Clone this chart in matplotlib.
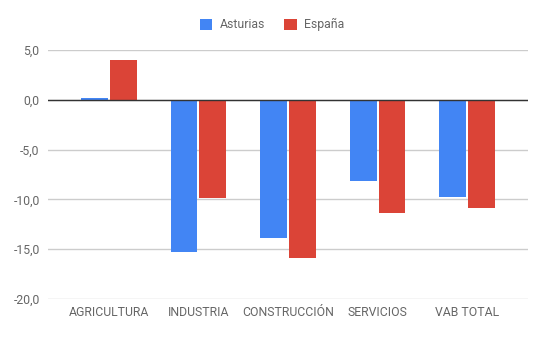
import numpy as np
import matplotlib.pyplot as plt

plt.rcParams['font.family'] = ['Roboto', 'DejaVu Sans']

# datos
categorias = ['AGRICULTURA', 'INDUSTRIA', 'CONSTRUCCIÓN', 'SERVICIOS', 'VAB TOTAL']
asturias = [0.15, -15.3, -13.9, -8.2, -9.8]
espana = [4.0, -9.9, -15.9, -11.4, -10.9]
yticks = [-20, -15, -10, -5, 0, 5]

fig = plt.figure(figsize=(5.44, 3.37), dpi=100)
ax = fig.add_axes([0.0882, 0.1128, 0.8824, 0.7388])

x = np.arange(len(categorias))
w = 0.30
gap = 0.022
ax.bar(x - w / 2 - gap / 2, asturias, w, color='#4285f4', label='Asturias', zorder=3)
ax.bar(x + w / 2 + gap / 2, espana, w, color='#db4437', label='España', zorder=3)

ax.set_xlim(-0.68, len(categorias) - 1 + 0.68)
ax.set_ylim(-20, 5)
ax.set_yticks(yticks)
ax.set_yticklabels([f'{v:.1f}'.replace('.', ',') for v in yticks])
ax.set_xticks(x)
ax.set_xticklabels(categorias)

ax.grid(axis='y', color='#cccccc', linewidth=1, zorder=0)
ax.axhline(0, color='#333333', linewidth=1, zorder=4)
for s in ax.spines.values():
    s.set_visible(False)
ax.tick_params(length=0, colors='#666666', labelsize=8.8)
ax.tick_params(axis='y', pad=6)
ax.tick_params(axis='x', pad=5)

fig.legend(loc='center', bbox_to_anchor=(0.5, 0.926), ncol=2, frameon=False,
           fontsize=8.8, labelcolor='#666666', handlelength=1.0, handleheight=1.0,
           columnspacing=1.6, handletextpad=0.6)

plt.savefig('out.png', dpi=100)
